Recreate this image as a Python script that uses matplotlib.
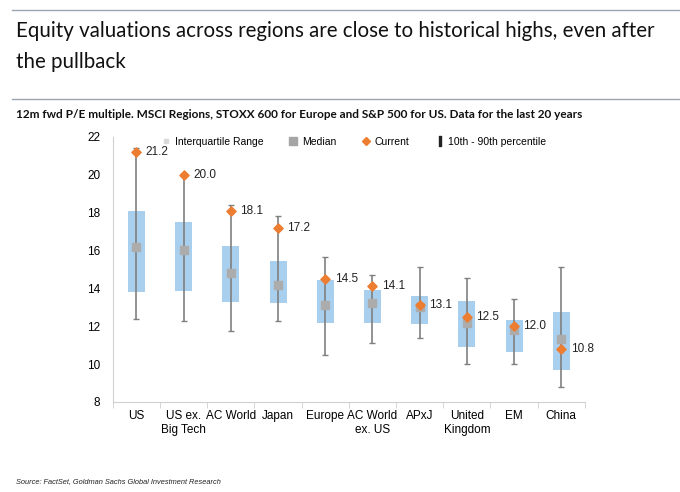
import numpy as np
import matplotlib.pyplot as plt
from matplotlib.lines import Line2D

# data
regions = ['US', 'US ex.\nBig Tech', 'AC World', 'Japan', 'Europe', 'AC World\nex. US',
           'APxJ', 'United\nKingdom', 'EM', 'China']
p10 = [12.4, 12.3, 11.75, 12.3, 10.5, 11.1, 11.4, 10.0, 10.0, 8.8]
p90 = [21.4, 20.05, 18.4, 17.8, 15.65, 14.7, 15.15, 14.55, 13.45, 15.1]
q25 = [13.8, 13.85, 13.3, 13.25, 12.15, 12.15, 12.1, 10.9, 10.65, 9.7]
q75 = [18.1, 17.5, 16.25, 15.45, 14.45, 13.9, 13.6, 13.35, 12.35, 12.75]
median = [16.2, 16.0, 14.8, 14.2, 13.1, 13.2, 13.0, 12.15, 11.8, 11.3]
current = [21.2, 20.0, 18.1, 17.2, 14.5, 14.1, 13.1, 12.5, 12.0, 10.8]

plt.rcParams['font.family'] = ['Liberation Sans', 'DejaVu Sans']

fig = plt.figure(figsize=(6.8, 4.92), dpi=100)
ax = fig.add_axes([0.166, 0.183, 0.694, 0.539])

x = np.arange(len(regions))
q25 = np.array(q25)
q75 = np.array(q75)

# interquartile boxes
ax.bar(x, q75 - q25, bottom=q25, width=0.36, color='#a9cfee', zorder=2)

# 10th - 90th percentile whiskers
med = np.array(median)
ax.errorbar(x, med, yerr=[med - np.array(p10), np.array(p90) - med], fmt='none',
            ecolor='#808080', elinewidth=1.2, capsize=2.5, capthick=1, zorder=3)

ax.scatter(x, median, marker='s', s=34, color='#acacac', zorder=4)
ax.scatter(x, current, marker='D', s=22, color='#ed7d31', zorder=5)

for xi, c in zip(x, current):
    ax.text(xi + 0.2, c, f'{c:.1f}', fontsize=8.5, va='center', ha='left', color='#222222')

ax.set_xlim(-0.5, len(regions) - 0.5)
ax.set_ylim(8, 22)
ax.set_yticks(np.arange(8, 23, 2))
ax.set_xticks(x)
ax.set_xticklabels(regions, fontsize=8.5)
ax.set_xticks(np.arange(-0.5, len(regions)), minor=True)
ax.tick_params(axis='x', which='major', length=0, pad=6)
ax.tick_params(axis='x', which='minor', length=4, color='#d0d0d0')
ax.tick_params(axis='y', labelsize=8.5, length=0, pad=9)
for s in ['top', 'right']:
    ax.spines[s].set_visible(False)
ax.spines['left'].set_color('#d0d0d0')
ax.spines['bottom'].set_color('#d0d0d0')

# legend
handles = [
    Line2D([], [], marker='s', color='#d9d9d9', ls='none', markersize=3),
    Line2D([], [], marker='s', color='#a5a5a5', ls='none', markersize=6),
    Line2D([], [], marker='D', color='#ed7d31', ls='none', markersize=4),
    Line2D([], [], marker='$\\mathrm{I}$', color='#222222', ls='none', markersize=7),
]
labels = ['Interquartile Range', 'Median', 'Current', '10th - 90th percentile']
ax.legend(handles, labels, ncol=4, frameon=False, fontsize=7.5, loc='upper center',
          bbox_to_anchor=(0.51, 1.035), handlelength=1.0, handletextpad=0.3,
          columnspacing=2.4)

# title block
title_font = ['Lato', 'Liberation Sans']
fig.add_artist(Line2D([0.018, 1.0], [0.98, 0.98], color='#9aa5b1', lw=1))
fig.text(0.023, 0.937, 'Equity valuations across regions are close to historical highs, even after',
         fontsize=14.8, family=title_font, va='center', color='#111111')
fig.text(0.023, 0.873, 'the pullback', fontsize=14.8, family=title_font,
         va='center', color='#111111')
fig.add_artist(Line2D([0.018, 1.0], [0.798, 0.798], color='#9aa5b1', lw=1))
fig.text(0.023, 0.767, '12m fwd P/E multiple. MSCI Regions, STOXX 600 for Europe and S&P 500 for US. Data for the last 20 years',
         fontsize=8.5, fontweight='bold', family=title_font, va='center', color='#111111')
fig.text(0.023, 0.022, 'Source: FactSet, Goldman Sachs Global Investment Research',
         fontsize=5.3, style='italic', va='center', color='#222222')

fig.savefig('out.png', dpi=100)
